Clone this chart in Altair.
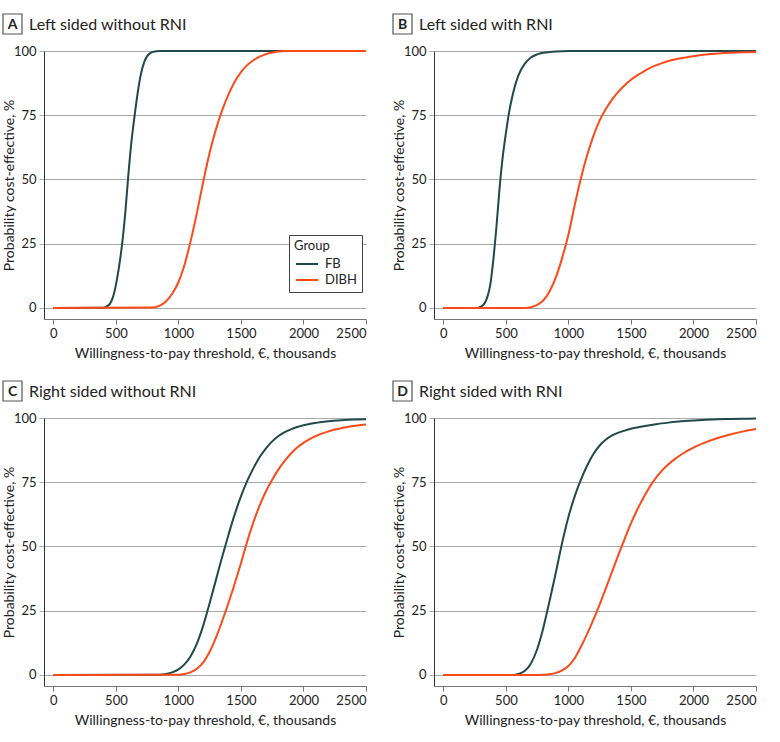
import altair as alt
import pandas as pd

# Cost-effectiveness acceptability curves: probability (%) that each
# technique is cost-effective at a given willingness-to-pay threshold (k€).

# Panel A: left sided without RNI
A_FB_X = [0, 400, 425, 450, 475, 500, 525, 550, 575, 600, 625, 650, 675, 700,
          725, 750, 775, 800, 850, 2500]
A_FB_Y = [0, 0.1, 0.5, 1.5, 4, 9, 16, 25, 37, 52, 65, 75, 84, 91,
          95.5, 98, 99.2, 99.7, 100, 100]
A_DIBH_X = [0, 800, 850, 900, 950, 1000, 1050, 1100, 1150, 1200, 1250, 1300,
            1350, 1400, 1450, 1500, 1550, 1600, 1650, 1700, 1750, 1800, 1850, 2500]
A_DIBH_Y = [0, 0.2, 0.9, 2.5, 5.5, 10, 17, 26.5, 37.5, 49.5, 60.5, 69.5,
            77, 83, 88, 91.8, 94.5, 96.4, 97.8, 98.8, 99.4, 99.8, 100, 100]

# Panel B: left sided with RNI
B_FB_X = [0, 275, 300, 325, 350, 375, 400, 425, 450, 475, 500, 525, 550, 600,
          650, 700, 750, 800, 850, 900, 1000, 2500]
B_FB_Y = [0, 0, 0.5, 1.5, 4, 9, 19, 32, 47, 59, 68, 76, 82, 90.5,
          95, 97.5, 98.7, 99.3, 99.6, 99.8, 100, 100]
B_DIBH_X = [0, 650, 700, 750, 800, 850, 900, 950, 1000, 1050, 1100, 1150, 1200,
            1250, 1300, 1350, 1400, 1450, 1500, 1550, 1600, 1650, 1700, 1750,
            1800, 1850, 1900, 1950, 2000, 2100, 2200, 2300, 2400, 2500]
B_DIBH_Y = [0, 0, 0.3, 1.2, 3, 6.5, 12, 19.5, 28.5, 40, 50.5, 59.5, 67,
            73, 77.5, 81.2, 84.2, 86.7, 88.8, 90.5, 92, 93.3, 94.4, 95.3,
            96.1, 96.7, 97.2, 97.6, 98.0, 98.6, 99.0, 99.3, 99.5, 99.6]

# Panel C: right sided without RNI
C_FB_X = [0, 850, 900, 950, 1000, 1050, 1100, 1150, 1200, 1250, 1300, 1350,
          1400, 1450, 1500, 1550, 1600, 1650, 1700, 1750, 1800, 1850, 1900,
          1950, 2000, 2100, 2200, 2300, 2400, 2500]
C_FB_Y = [0, 0.1, 0.4, 1, 2.2, 4.2, 7.5, 12.5, 19.5, 28, 37, 46,
          54.5, 62.5, 69.5, 75.5, 80.5, 84.8, 88.2, 90.9, 93, 94.5, 95.6,
          96.5, 97.2, 98.1, 98.7, 99.1, 99.4, 99.5]
C_DIBH_X = [0, 1000, 1050, 1100, 1150, 1200, 1250, 1300, 1350, 1400, 1450, 1500,
            1550, 1600, 1650, 1700, 1750, 1800, 1850, 1900, 1950, 2000, 2050,
            2100, 2150, 2200, 2250, 2300, 2350, 2400, 2450, 2500]
C_DIBH_Y = [0, 0.1, 0.4, 1.1, 2.5, 5, 9, 14.5, 21, 28, 35.5, 43.5,
            52, 59.5, 66, 71.5, 76, 80, 83.3, 86.2, 88.5, 90.3, 91.8,
            93, 94, 94.8, 95.5, 96, 96.5, 96.9, 97.2, 97.5]

# Panel D: right sided with RNI
D_FB_X = [0, 550, 600, 650, 700, 750, 800, 850, 900, 950, 1000, 1050, 1100,
          1150, 1200, 1250, 1300, 1350, 1400, 1450, 1500, 1600, 1700, 1800,
          1900, 2000, 2100, 2200, 2300, 2400, 2500]
D_FB_Y = [0, 0, 0.4, 1.5, 4.5, 10, 18.5, 29, 40, 51.5, 61.5, 69.5, 76,
          81.5, 86, 89.3, 91.6, 93.2, 94.3, 95.1, 95.8, 96.8, 97.6, 98.2,
          98.7, 99, 99.3, 99.5, 99.6, 99.7, 99.8]
D_DIBH_X = [0, 750, 800, 850, 900, 950, 1000, 1050, 1100, 1150, 1200, 1250,
            1300, 1350, 1400, 1450, 1500, 1550, 1600, 1650, 1700, 1750, 1800,
            1850, 1900, 1950, 2000, 2100, 2200, 2300, 2400, 2500]
D_DIBH_Y = [0, 0, 0.1, 0.3, 0.8, 1.8, 3.5, 6.5, 11, 16, 21.5, 27.5,
            33.8, 40.3, 46.8, 53, 59, 64.3, 69, 73.2, 76.7, 79.6, 82,
            84, 85.7, 87.2, 88.5, 90.6, 92.3, 93.7, 94.8, 95.7]

PANELS = [
    ("A", "Left sided without RNI", A_FB_X, A_FB_Y, A_DIBH_X, A_DIBH_Y),
    ("B", "Left sided with RNI", B_FB_X, B_FB_Y, B_DIBH_X, B_DIBH_Y),
    ("C", "Right sided without RNI", C_FB_X, C_FB_Y, C_DIBH_X, C_DIBH_Y),
    ("D", "Right sided with RNI", D_FB_X, D_FB_Y, D_DIBH_X, D_DIBH_Y),
]

GROUPS = ["FB", "DIBH"]
COLORS = ["#1f4a47", "#fc4a1a"]
X_TICKS = [0, 500, 1000, 1500, 2000, 2500]
Y_TICKS = [0, 25, 50, 75, 100]

FONT = "Lato"
W, H = 322, 268


def panel(letter, title, fx, fy, dx, dy, show_legend):
    rows = [{"group": "FB", "wtp": x, "prob": y} for x, y in zip(fx, fy)]
    rows += [{"group": "DIBH", "wtp": x, "prob": y} for x, y in zip(dx, dy)]
    df = pd.DataFrame(rows)

    legend = (
        alt.Legend(
            title="Group", orient="none", legendX=245, legendY=184,
            direction="vertical", symbolType="M-1.4,0L1.4,0",
            symbolStrokeWidth=2, symbolSize=250, symbolOffset=4,
            strokeColor="#444", padding=5, fillColor="white",
            titleFont=FONT, titleFontSize=13, titleFontWeight="normal",
            titleColor="#222", labelFont=FONT, labelFontSize=13,
            labelColor="#222", rowPadding=0, titlePadding=2, labelOffset=9,
        )
        if show_legend else None
    )

    lines = alt.Chart(df).mark_line(strokeWidth=2, interpolate="monotone").encode(
        x=alt.X(
            "wtp:Q",
            scale=alt.Scale(domain=[-75, 2500], nice=False, zero=False),
            axis=alt.Axis(
                values=X_TICKS, format="d",
                title="Willingness-to-pay threshold, €, thousands",
                grid=False, domainColor="#777", tickColor="#777", tickSize=5,
                labelPadding=3, titlePadding=6,
            ),
        ),
        y=alt.Y(
            "prob:Q",
            scale=alt.Scale(domain=[-4.3, 100], nice=False, zero=False),
            axis=alt.Axis(
                values=Y_TICKS, title="Probability cost-effective, %",
                grid=True, gridColor="#aaaaaa", domainColor="#333",
                tickColor="#aaaaaa", tickSize=5, labelPadding=3, titlePadding=-3,
            ),
        ),
        color=alt.Color(
            "group:N",
            scale=alt.Scale(domain=GROUPS, range=COLORS),
            legend=legend,
        ),
        detail="group:N",
        order=alt.Order("wtp:Q"),
    )

    one = alt.Data(values=[{}])
    box = alt.Chart(one).mark_rect(
        fill="white", stroke="#555", strokeWidth=1.2
    ).encode(
        x=alt.value(-41), x2=alt.value(-22), y=alt.value(-37), y2=alt.value(-17)
    )
    tag = alt.Chart(one).mark_text(
        font=FONT, fontSize=14, fontWeight="bold", color="#222",
        align="center", baseline="middle",
    ).encode(x=alt.value(-31.5), y=alt.value(-26.5), text=alt.value(letter))
    head = alt.Chart(one).mark_text(
        font=FONT, fontSize=16, color="#222", align="left", baseline="middle",
    ).encode(x=alt.value(-15), y=alt.value(-26.5), text=alt.value(title))

    return alt.layer(lines, box, tag, head).properties(width=W, height=H)


charts = [panel(*p, show_legend=(i == 0)) for i, p in enumerate(PANELS)]

top = alt.hconcat(charts[0], charts[1], spacing=22).resolve_legend(color="independent")
bottom = alt.hconcat(charts[2], charts[3], spacing=22).resolve_legend(color="independent")

chart = alt.vconcat(top, bottom, spacing=20).resolve_legend(
    color="independent"
).properties(
    padding={"left": 2, "top": 13, "right": 5, "bottom": 5},
    background="white",
).configure_view(
    stroke=None
).configure_axis(
    labelFont=FONT, labelFontSize=13, labelColor="#222",
    titleFont=FONT, titleFontSize=14, titleFontWeight="normal", titleColor="#222",
)

chart.save("out.html", embed_options={"renderer": "svg", "actions": False})
